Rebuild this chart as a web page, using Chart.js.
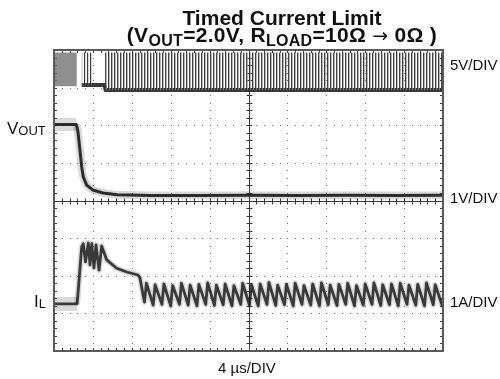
<!DOCTYPE html>
<html>
<head>
<meta charset="utf-8">
<script src="https://cdn.jsdelivr.net/npm/chart.js@4"></script>
<style>
  body { margin: 0; background: #fff; }
  #wrap { position: relative; width: 500px; height: 379px; font-family: "Liberation Sans", Arial, sans-serif; color: #111; }
  #scope { position: absolute; left: 0; top: 0; }
  .title { position: absolute; left: 82px; width: 400px; text-align: center; font-weight: bold; font-size: 21px; line-height: 21px; white-space: nowrap; }
  .title sub { font-size: 16px; line-height: 0; vertical-align: -4px; }
  .title .arrow { font-family: "DejaVu Sans", sans-serif; font-weight: normal; font-size: 19px; }
  .lbl { position: absolute; font-size: 15px; line-height: 15px; white-space: nowrap; }
  .big { font-size: 17px; }
  .big sub { font-size: 13px; line-height: 0; vertical-align: -1px; }
</style>
</head>
<body>
<div id="wrap">
  <canvas id="scope" width="500" height="379"></canvas>
  <div class="title" style="top:7px">Timed Current Limit</div>
  <div class="title" style="top:24px; letter-spacing:0.3px">(V<sub>OUT</sub>=2.0V, R<sub>LOAD</sub>=10Ω <span class="arrow">→</span> 0Ω )</div>
  <div class="lbl" style="left:450px; top:57px">5V/DIV</div>
  <div class="lbl" style="left:450px; top:190px">1V/DIV</div>
  <div class="lbl" style="left:450px; top:294px">1A/DIV</div>
  <div class="lbl big" style="left:7px; top:121px">V<sub>OUT</sub></div>
  <div class="lbl big" style="left:34px; top:294px">I<sub>L</sub></div>
  <div class="lbl" style="left:218px; top:360px">4 µs/DIV</div>
</div>
<script>
// screen: 10 x 8 divisions, 4 µs/div
const xDivs = 10, yDivs = 8;
const usPerDiv = 4;

// switch node, volts (5V/div): pre-short noise, first burst, steady switching
const swPreT = [0, 2.35];
const swPreHi = [5.0, 5.0];
const swBurstT = [2.85, 4.0];
const swBurstHi = [5.0, 5.0];
const swRunT = [5.25, 40];
const swRunHi = [5.0, 5.0];
const swLow = [0.5, 0.66, 0];          // bottom of each segment above
const swBaseT = [2.85, 5.2, 5.3, 40];
const swBaseV = [0.66, 0.66, 0, 0];

// output voltage, volts (1V/div)
const voutT = [0, 2.3, 2.45, 2.67, 2.85, 3.01, 3.36, 4.0, 5.04, 6.5, 9.9, 15, 20, 25, 30, 35, 40];
const voutV = [2.02, 2.02, 1.85, 1.34, 0.89, 0.63, 0.41, 0.28, 0.2, 0.15, 0.13, 0.13, 0.14, 0.13, 0.14, 0.13, 0.14];

// inductor current, amps (1A/div)
const ilT = [0, 2.38, 2.85, 3.01, 3.24, 3.53, 3.70, 3.88, 4.11, 4.32, 4.63, 4.90, 5.42, 6.45, 7.48, 8.64, 8.84,
  9.30, 9.50, 10.20, 10.40, 11.10, 11.30, 12.00, 12.20, 12.90, 13.10, 13.80, 14.00, 14.70, 14.90,
  15.60, 15.80, 16.50, 16.70, 17.40, 17.60, 18.30, 18.50, 19.20, 19.40, 20.10, 20.30, 21.00, 21.20,
  21.90, 22.10, 22.80, 23.00, 23.70, 23.90, 24.60, 24.80, 25.50, 25.70, 26.40, 26.60, 27.30, 27.50,
  28.20, 28.40, 29.10, 29.30, 30.00, 30.20, 30.90, 31.10, 31.80, 32.00, 32.70, 32.90, 33.60, 33.80,
  34.50, 34.70, 35.40, 35.60, 36.30, 36.50, 37.20, 37.40, 38.10, 38.30, 39.00, 39.20, 39.90, 40.00];
const ilA = [0.25, 0.25, 1.77, 1.85, 1.37, 1.87, 1.29, 1.85, 1.21, 1.82, 1.15, 1.79, 1.42, 1.2, 1.1, 1.02, 0.94,
  0.30, 0.80, 0.22, 0.76, 0.24, 0.78, 0.20, 0.74, 0.24, 0.80, 0.22, 0.75, 0.20, 0.77,
  0.24, 0.81, 0.21, 0.75, 0.23, 0.78, 0.20, 0.74, 0.24, 0.80, 0.22, 0.76, 0.20, 0.78,
  0.24, 0.82, 0.21, 0.75, 0.23, 0.77, 0.20, 0.80, 0.24, 0.74, 0.22, 0.78, 0.20, 0.81,
  0.23, 0.75, 0.21, 0.77, 0.24, 0.80, 0.20, 0.74, 0.22, 0.78, 0.24, 0.81, 0.21, 0.76,
  0.23, 0.78, 0.20, 0.80, 0.24, 0.75, 0.22, 0.77, 0.20, 0.81, 0.23, 0.76, 0.22, 0.40];

const pts = (ts, vs) => ts.map((t, i) => ({ x: t, y: vs[i] }));

const canvas = document.getElementById("scope");
const ctx = canvas.getContext("2d");

// vertical stripe texture for the switching edges
function stripes(cols) {
    const c = document.createElement("canvas");
    c.width = cols.length; c.height = 1;
    const g = c.getContext("2d");
    cols.forEach((col, i) => { if (col) { g.fillStyle = col; g.fillRect(i, 0, 1, 1); } });
    return ctx.createPattern(c, "repeat");
}
const densePat = stripes(["rgba(55,55,55,0.95)", "rgba(150,150,150,0.7)", null]);
const burstPat = stripes(["rgba(50,50,50,0.95)", "rgba(150,150,150,0.4)", null]);

const graticule = {
    id: "graticule",
    beforeDatasetsDraw(chart) {
        const { ctx, chartArea: a, scales: { x, y } } = chart;
        ctx.save();
        ctx.fillStyle = "#6a6a6a";
        const xStep = usPerDiv / 5;
        // dotted division lines
        for (let i = 1; i < xDivs; i++) {
            if (i === xDivs / 2) continue;
            const px = Math.round(x.getPixelForValue(i * usPerDiv));
            for (let j = 1; j < yDivs * 5; j++) {
                ctx.fillRect(px, Math.round(y.getPixelForValue(j / 5)), 1, 1);
            }
        }
        for (let j = 1; j < yDivs; j++) {
            if (j === yDivs / 2) continue;
            const py = Math.round(y.getPixelForValue(j));
            for (let i = 1; i < xDivs * 5; i++) {
                ctx.fillRect(Math.round(x.getPixelForValue(i * xStep)), py, 1, 1);
            }
        }
        // centre axes with minor ticks
        const cx = Math.round(x.getPixelForValue(xDivs / 2 * usPerDiv)) + 0.5;
        const cy = Math.round(y.getPixelForValue(yDivs / 2)) + 0.5;
        ctx.strokeStyle = "#3a3a3a";
        ctx.lineWidth = 1;
        ctx.beginPath();
        ctx.moveTo(a.left, cy); ctx.lineTo(a.right, cy);
        ctx.moveTo(cx, a.top); ctx.lineTo(cx, a.bottom);
        for (let i = 1; i < xDivs * 5; i++) {
            const px = Math.round(x.getPixelForValue(i * xStep)) + 0.5;
            ctx.moveTo(px, cy - 3); ctx.lineTo(px, cy + 3);
            ctx.moveTo(px, a.bottom); ctx.lineTo(px, a.bottom - 3);
            ctx.moveTo(px, a.top); ctx.lineTo(px, a.top + 3);
        }
        for (let j = 1; j < yDivs * 5; j++) {
            const py = Math.round(y.getPixelForValue(j / 5)) + 0.5;
            ctx.moveTo(cx - 3, py); ctx.lineTo(cx + 3, py);
            ctx.moveTo(a.left, py); ctx.lineTo(a.left + 3, py);
            ctx.moveTo(a.right, py); ctx.lineTo(a.right - 3, py);
        }
        ctx.stroke();
        ctx.restore();
    },
    afterDatasetsDraw(chart) {
        const { ctx, chartArea: a } = chart;
        ctx.save();
        ctx.strokeStyle = "#5a5a5a";
        ctx.lineWidth = 2;
        ctx.strokeRect(a.left, a.top, a.right - a.left, a.bottom - a.top);
        ctx.restore();
    }
};

// switching envelope, filled down to the segment's low level
const band = (ts, vs, low, bg) => ({
    data: pts(ts, vs), yAxisID: "ySw", borderWidth: 0, fill: { value: low }, backgroundColor: bg
});

const trace = (ts, vs, axis, color, width) => ({
    data: pts(ts, vs), yAxisID: axis, borderColor: color, borderWidth: width,
    borderJoinStyle: "round", borderCapStyle: "butt"
});

// noise haze: wider on the flat stretch before the short
const haze = (ts, vs, axis, preWidth, width) => ({
    ...trace(ts, vs, axis, "rgba(0,0,0,0.15)", width),
    segment: { borderWidth: c => (c.p0DataIndex < 1 ? preWidth : width) }
});

new Chart(ctx, {
    type: "line",
    data: {
        datasets: [
            band(swPreT, swPreHi, swLow[0], "rgba(105,105,105,0.75)"),
            band(swBurstT, swBurstHi, swLow[1], burstPat),
            band(swRunT, swRunHi, swLow[2], densePat),
            trace(swBaseT, swBaseV, "ySw", "rgba(35,35,35,0.9)", 4),
            haze(voutT, voutV, "yVout", 13, 8),
            trace(voutT, voutV, "yVout", "rgba(30,30,30,0.9)", 3),
            haze(ilT, ilA, "yIl", 14, 6),
            trace(ilT, ilA, "yIl", "rgba(35,35,35,0.85)", 2.8)
        ]
    },
    options: {
        responsive: false,
        animation: false,
        layout: { padding: { left: 54, top: 50, right: 57, bottom: 28 } },
        elements: { point: { radius: 0 }, line: { tension: 0 } },
        plugins: { legend: { display: false }, tooltip: { enabled: false } },
        scales: {
            x: { type: "linear", min: 0, max: xDivs * usPerDiv, display: false },
            y: { min: 0, max: yDivs, display: false },
            ySw: { min: -34.68, max: 5.32, display: false },
            yVout: { min: -4, max: 4, display: false },
            yIl: { min: -1, max: 7, display: false }
        }
    },
    plugins: [graticule]
});
</script>
</body>
</html>
